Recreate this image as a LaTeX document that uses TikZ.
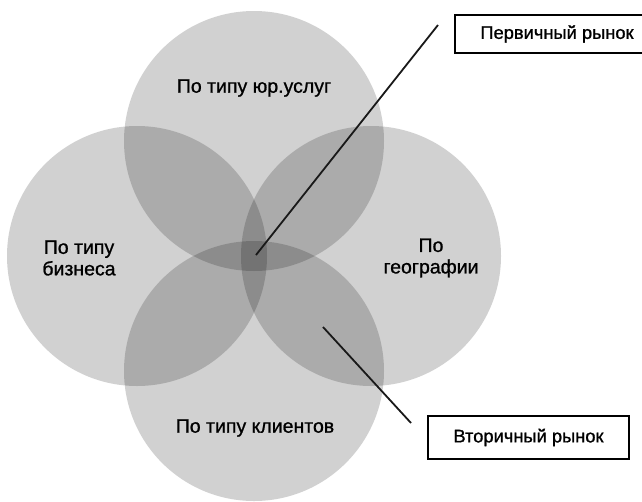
\documentclass[tikz,border=0pt]{standalone}
\usepackage{fontspec}
\setmainfont{Liberation Sans}
\newfontfamily\heavyfont[FakeBold=1.0]{Liberation Sans}
\begin{document}
\begin{tikzpicture}[x=1pt,y=-1pt,
  circ/.style={circle, minimum size=260pt, inner sep=0pt, fill=black, fill opacity=0.18, draw=none},
  lbl/.style={font=\heavyfont\fontsize{19.5}{21.5}\selectfont, align=center, inner sep=0pt},
  tagbox/.style={draw=black, line width=1.6pt, fill=white, font=\heavyfont\fontsize{18.3}{20}\selectfont, inner sep=0pt},
  pointer/.style={line width=1.8pt, draw=black!90}]
\useasboundingbox (0,0) rectangle (642,501);
\node[circ] (top) at (254,141) {};
\node[circ] (left) at (137,256) {};
\node[circ] (right) at (371,256) {};
\node[circ] (bottom) at (254,371) {};
\node[lbl] (ltop) at (254,88) {По типу юр.услуг};
\node[lbl] (lleft) at (79,258) {По типу\\бизнеса};
\node[lbl] (lright) at (431,258) {По\\географии};
\node[lbl] (lbottom) at (255,428) {По типу клиентов};
\node[tagbox, minimum width=204pt, minimum height=38pt] (prim) at (557,34) {Первичный рынок};
\node[tagbox, minimum width=201pt, minimum height=43pt] (sec) at (528.5,437.5) {Вторичный рынок};
\coordinate (c1) at (256,255);
\coordinate (c1e) at (438,25);
\coordinate (c2) at (323,327);
\coordinate (c2e) at (411,423);
\draw[pointer] (c1) -- (c1e);
\draw[pointer] (c2) -- (c2e);
\end{tikzpicture}
\end{document}
